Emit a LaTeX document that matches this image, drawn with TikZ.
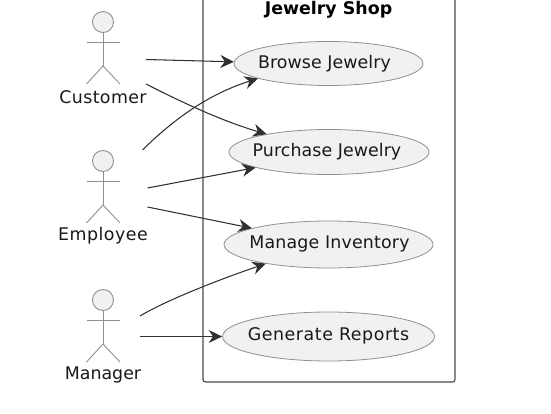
\documentclass[tikz,border=0pt]{standalone}
\usepackage{fontspec}
\setmainfont{DejaVu Sans}
\usetikzlibrary{arrows.meta,shapes.geometric}
\definecolor{fillc}{HTML}{F1F1F1}
\definecolor{linec}{HTML}{303030}
\definecolor{edgec}{HTML}{909090}
\newcommand{\uctext}[4]{\hspace*{#4}\makebox[0pt]{\raisebox{#1}[0pt][0pt]{\addfontfeatures{LetterSpace=#2}#3}}}
\tikzset{
  uc/.style={ellipse,draw=edgec,fill=fillc,line width=0.8pt,inner sep=0pt,font=\fontsize{17.4}{20}\selectfont,text=black!90},
  head/.style={circle,draw=edgec,fill=fillc,line width=0.9pt,minimum size=21pt,inner sep=0pt},
  limb/.style={draw=edgec,line width=0.9pt},
  alabel/.style={font=\fontsize{17.4}{20}\selectfont,text=black!90,inner sep=0pt},
  conn/.style={draw=linec,line width=1.05pt,-{Stealth[length=13.5pt,width=13pt,inset=4.5pt]}},
  frame/.style={draw=black!70,line width=1.2pt,rounded corners=2.5pt},
}
\newcommand{\actor}[4]{% name, head y, label, spacing
  \node[head] (#1h) at (103,#2) {};
  \coordinate (#1a) at (86.5,#2+20);
  \coordinate (#1b) at (120,#2+20);
  \coordinate (#1p) at (103,#2+44);
  \coordinate (#1l) at (86.5,#2+62);
  \coordinate (#1r) at (120,#2+62);
  \draw[limb] (#1h) -- (#1p);
  \draw[limb] (#1a) -- (#1b);
  \draw[limb] (#1l) -- (#1p) -- (#1r);
  \node[alabel] (#1t) at (103,#2+75) {\addfontfeatures{LetterSpace=#4}#3};
}
\begin{document}
\begin{tikzpicture}[x=1pt,y=-1pt]
\useasboundingbox[fill=white] (0,0) rectangle (551,414);
\begin{scope}
\clip (0,0) rectangle (551,414);
\draw[frame] (203,-20) rectangle (455,382);
\end{scope}
\node[font=\fontsize{17.4}{20}\selectfont\bfseries,inner sep=0pt] (title) at (328.5,10) {Jewelry Shop};
\node[uc,minimum width=189pt,minimum height=44pt] (b) at (328.5,63.5) {\uctext{-5.5pt}{0.4}{Browse Jewelry}{-8pt}};
\node[uc,minimum width=200pt,minimum height=45pt] (p) at (329,152) {\uctext{-5pt}{0.4}{Purchase Jewelry}{-4pt}};
\node[uc,minimum width=209pt,minimum height=47pt] (m) at (328.5,244.5) {\uctext{-4pt}{1}{Manage Inventory}{2pt}};
\node[uc,minimum width=212pt,minimum height=49pt] (g) at (328.5,336.5) {\uctext{-4pt}{3.2}{Generate Reports}{0pt}};
\actor{c}{22}{Customer}{2.1}
\actor{e}{161}{Employee}{2.8}
\actor{k}{300}{Manager}{0}
\coordinate (c1) at (146,59.5);
\coordinate (c2) at (146,84);
\coordinate (e1) at (142.5,150);
\coordinate (e2) at (147.5,188);
\coordinate (e3) at (147.5,207);
\coordinate (k1) at (140,316);
\coordinate (k2) at (140,336.5);
\draw[conn] (c1) -- (b.179);
\draw[conn] (c2) .. controls (185,104) and (225,122) .. (p.164);
\draw[conn] (e1) .. controls (180,113) and (215,92) .. (b.192);
\draw[conn] (e2) -- (p.192);
\draw[conn] (e3) -- (m.168);
\draw[conn] (k1) .. controls (165,301) and (215,281) .. (m.197);
\draw[conn] (k2) -- (g.west);
\end{tikzpicture}
\end{document}
